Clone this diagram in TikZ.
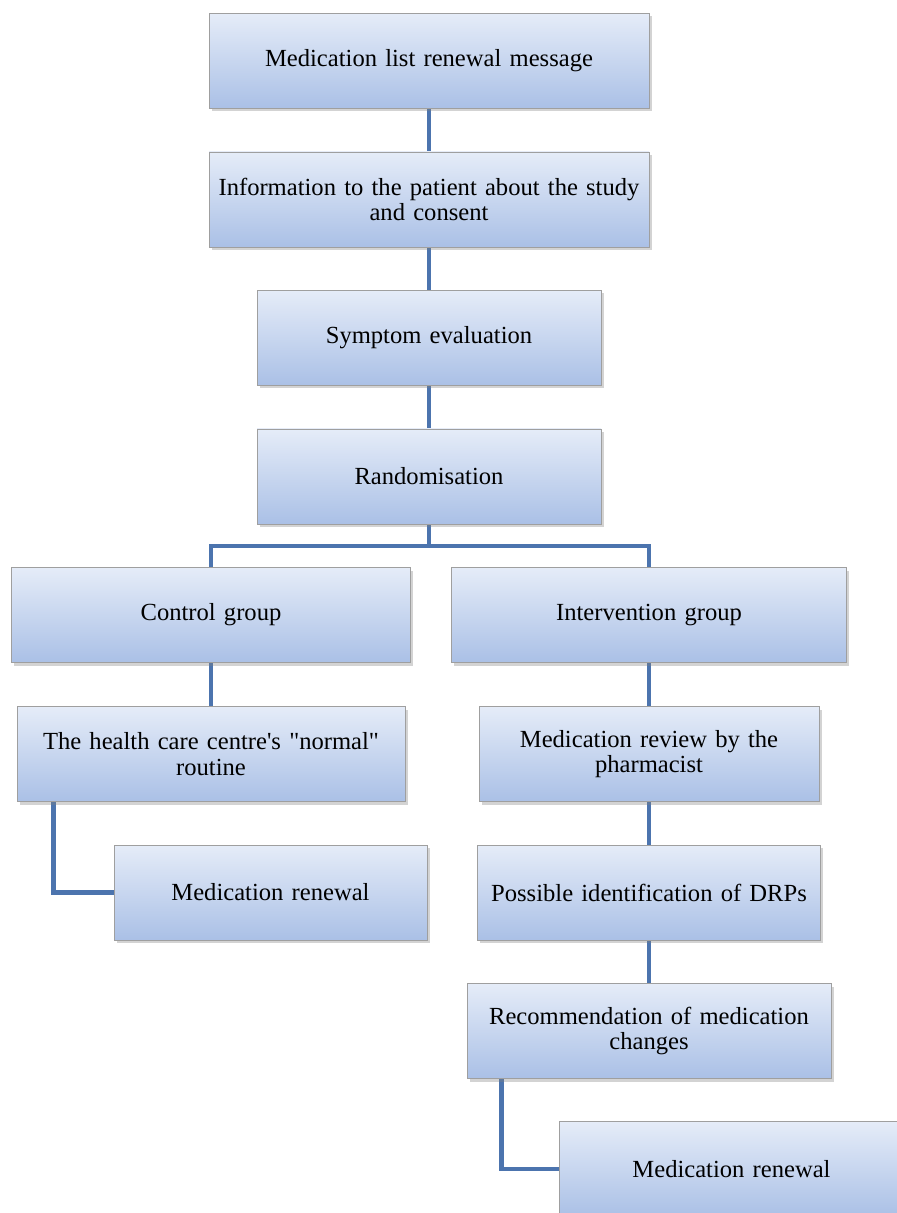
\documentclass[tikz,border=0pt]{standalone}
\usepackage{fontspec}
\setmainfont{Liberation Serif}
\usetikzlibrary{calc,shadows,backgrounds}
\definecolor{boxtop}{RGB}{229,236,248}
\definecolor{boxbottom}{RGB}{170,192,230}
\definecolor{linkblue}{RGB}{76,116,174}
\tikzset{
	stepbox/.style={draw=gray!75, line width=0.5pt, top color=boxtop, bottom color=boxbottom,
		minimum height=1.9cm, align=center, inner sep=2pt, font=\fontsize{14}{14.6}\selectfont,
		drop shadow={opacity=0.35, shadow xshift=0.05cm, shadow yshift=-0.06cm}},
	link/.style={draw=linkblue, line width=2.8pt}
}

\begin{document}
\begin{tikzpicture}
			%%%%% START %%%%%
			
			\useasboundingbox (0, 0) rectangle (17.92, -24.26);
			
			\node[stepbox, minimum width=8.8cm, text width=8.6cm] (msg) at (8.58, -1.22) {Medication list renewal message};
			\node[stepbox, minimum width=8.8cm, text width=8.6cm] (info) at (8.58, -3.99) {Information to the patient about the study\\and consent};
			\node[stepbox, minimum width=6.88cm, text width=6.6cm] (symp) at (8.58, -6.76) {Symptom evaluation};
			\node[stepbox, minimum width=6.88cm, text width=6.6cm] (rand) at (8.58, -9.53) {Randomisation};
			
			\node[stepbox, minimum width=7.98cm, text width=7.7cm] (ctrl) at (4.22, -12.30) {Control group};
			\node[stepbox, minimum width=7.9cm, text width=7.6cm] (interv) at (12.98, -12.30) {Intervention group};
			
			\node[stepbox, minimum width=7.76cm, text width=7.5cm] (routine) at (4.22, -15.08) {The health care centre\textquotesingle s \textquotedbl normal\textquotedbl\\routine};
			\node[stepbox, minimum width=6.26cm, text width=6cm] (renewA) at (5.41, -17.85) {Medication renewal};
			
			\node[stepbox, minimum width=6.8cm, text width=6.6cm] (review) at (12.98, -15.08) {Medication review by the\\pharmacist};
			\node[stepbox, minimum width=6.86cm, text width=6.7cm] (drp) at (12.98, -17.85) {Possible identification of DRPs};
			\node[stepbox, minimum width=7.28cm, text width=7cm] (recom) at (12.98, -20.62) {Recommendation of medication\\changes};
			\node[stepbox, minimum width=6.88cm, text width=6.6cm] (renewB) at (14.63, -23.38) {Medication renewal};
			
			\coordinate (split) at (8.58, -10.92);
			
			\begin{scope}[on background layer]
				\draw[link] (msg) -- (info);
				\draw[link] (info) -- (symp);
				\draw[link] (symp) -- (rand);
				\draw[link] (rand) -- (split);
				\draw[link] (split) -| (ctrl);
				\draw[link] (split) -| (interv);
				
				\draw[link] (ctrl) -- (routine);
				\draw[link] ([xshift=0.74cm]routine.south west) |- (renewA.west);
				
				\draw[link] (interv) -- (review);
				\draw[link] (review) -- (drp);
				\draw[link] (drp) -- (recom);
				\draw[link] ([xshift=0.7cm]recom.south west) |- (renewB.west);
			\end{scope}
			
			%%%%% END %%%%%
		\end{tikzpicture}
\end{document}
